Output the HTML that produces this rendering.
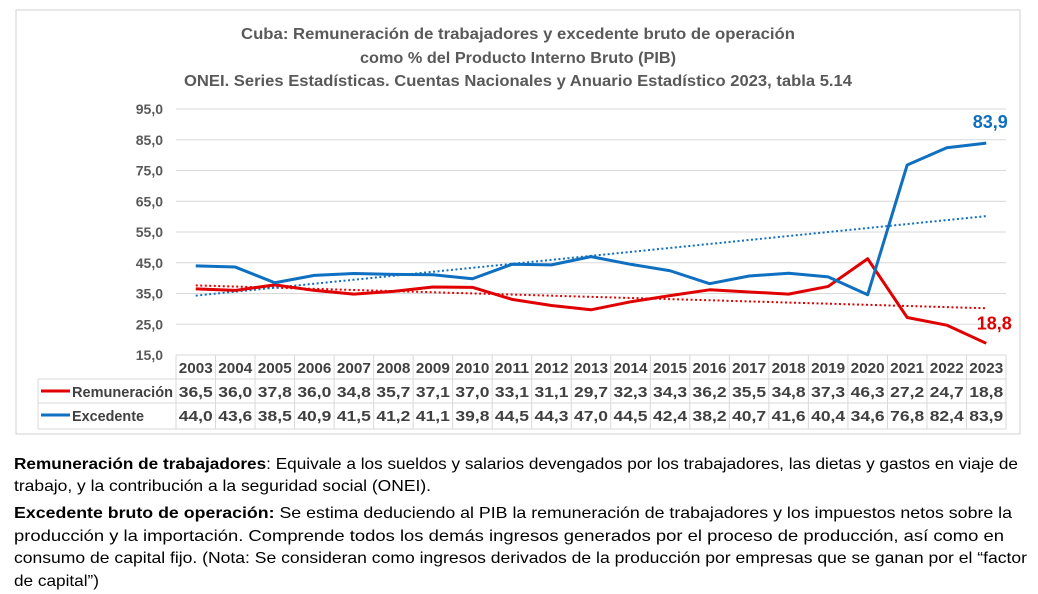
<!DOCTYPE html>
<html><head><meta charset="utf-8"><style>
html,body{margin:0;padding:0;background:#fff;}
svg{display:block;font-family:"Liberation Sans",Arial,sans-serif;}
</style></head><body>
<svg id="c" width="1038" height="594" viewBox="0 0 1038 594">
<rect x="16" y="10" width="1004" height="424" fill="#fff" stroke="#d9d9d9" stroke-width="1.2"/>
<g font-weight="bold" fill="#595959" font-size="15.5" text-anchor="middle">
<text x="518" y="39" textLength="554" lengthAdjust="spacingAndGlyphs">Cuba: Remuneración de trabajadores y excedente bruto de operación</text>
<text x="518" y="63" textLength="316" lengthAdjust="spacingAndGlyphs">como % del Producto Interno Bruto (PIB)</text>
<text x="518" y="86" textLength="668" lengthAdjust="spacingAndGlyphs">ONEI. Series Estadísticas. Cuentas Nacionales y Anuario Estadístico 2023, tabla 5.14</text>
</g>
<g id="grid"></g><g id="yt"></g><g id="tbl"></g><g id="marks"></g>
<g font-size="16" fill="#000">
<text x="14" y="469" textLength="1004" lengthAdjust="spacingAndGlyphs"><tspan font-weight="bold">Remuneración de trabajadores</tspan>: Equivale a los sueldos y salarios devengados por los trabajadores, las dietas y gastos en viaje de</text>
<text x="14" y="491" textLength="417" lengthAdjust="spacingAndGlyphs">trabajo, y la contribución a la seguridad social (ONEI).</text>
<text x="14" y="518" textLength="998" lengthAdjust="spacingAndGlyphs"><tspan font-weight="bold">Excedente bruto de operación:</tspan> Se estima deduciendo al PIB la remuneración de trabajadores y los impuestos netos sobre la</text>
<text x="14" y="541" textLength="990" lengthAdjust="spacingAndGlyphs">producción y la importación. Comprende todos los demás ingresos generados por el proceso de producción, así como en</text>
<text x="14" y="563" textLength="1013" lengthAdjust="spacingAndGlyphs">consumo de capital fijo. (Nota: Se consideran como ingresos derivados de la producción por empresas que se ganan por el “factor</text>
<text x="14" y="586" textLength="85" lengthAdjust="spacingAndGlyphs">de capital”)</text>
</g>
</svg>
<script>
const years=[2003,2004,2005,2006,2007,2008,2009,2010,2011,2012,2013,2014,2015,2016,2017,2018,2019,2020,2021,2022,2023];
const remuneracion=[36.5,36.0,37.8,36.0,34.8,35.7,37.1,37.0,33.1,31.1,29.7,32.3,34.3,36.2,35.5,34.8,37.3,46.3,27.2,24.7,18.8];
const excedente=[44.0,43.6,38.5,40.9,41.5,41.2,41.1,39.8,44.5,44.3,47.0,44.5,42.4,38.2,40.7,41.6,40.4,34.6,76.8,82.4,83.9];
const yTicks=[15,25,35,45,55,65,75,85,95];
const NS='http://www.w3.org/2000/svg';
const X0=176,X1=1006,Y0=355,Y1=109,VMIN=15,VMAX=95;
const cw=(X1-X0)/years.length;
const xs=i=>X0+cw*(i+0.5);
const ys=v=>Y0-(v-VMIN)/(VMAX-VMIN)*(Y0-Y1);
const fmt=v=>v.toFixed(1).replace('.',',');
function mk(p,tag,a){const e=document.createElementNS(NS,tag);for(const k in a)e.setAttribute(k,a[k]);document.getElementById(p).appendChild(e);return e;}
yTicks.forEach(t=>{
  if(t>VMIN){const l=mk('grid','line',{x1:X0,x2:X1,y1:ys(t),y2:ys(t),stroke:'#d9d9d9','stroke-width':1});
  
  }
  const tx=mk('yt','text',{x:163,y:ys(t)+5,'text-anchor':'end','font-size':14,'font-weight':'bold',fill:'#595959'});
  tx.textContent=fmt(t);
  
  
});
const R0=355,R1=379,R2=403,R3=429,LX=38;
const gs={stroke:'#d9d9d9','stroke-width':1};
[[X0,X1,R0],[LX,X1,R1],[LX,X1,R2],[LX,X1,R3]].forEach(a=>mk('tbl','line',Object.assign({x1:a[0],x2:a[1],y1:a[2],y2:a[2]},gs)));
mk('tbl','line',Object.assign({x1:LX,x2:LX,y1:R1,y2:R3},gs));
for(let i=0;i<=years.length;i++)mk('tbl','line',Object.assign({x1:X0+cw*i,x2:X0+cw*i,y1:R0,y2:R3},gs));
function cell(x,y,txt,name){const t=mk('tbl','text',{x:x,y:y,'text-anchor':'middle','font-size':14.5,'font-weight':'bold',fill:'#404040',textLength:34,lengthAdjust:'spacingAndGlyphs'});t.textContent=txt;

}
years.forEach((y,i)=>{cell(xs(i),R0+18,y,'year-label');cell(xs(i),R1+18,fmt(remuneracion[i]),'remuneracion-value');cell(xs(i),R2+18,fmt(excedente[i]),'excedente-value');});
[['Remuneración','#e00000',R1,'legend-remuneracion',101],['Excedente','#0f6fc0',R2,'legend-excedente',72]].forEach(d=>{
  mk('tbl','line',{x1:41,x2:70,y1:d[2]+12,y2:d[2]+12,stroke:d[1],'stroke-width':3});
  const t=mk('tbl','text',{x:72,y:d[2]+18,'font-size':14.5,'font-weight':'bold',fill:'#404040',textLength:d[4],lengthAdjust:'spacingAndGlyphs'});t.textContent=d[0];
  
  
});
function trend(arr){const n=arr.length;let sx=0,sy=0,sxy=0,sxx=0;arr.forEach((v,i)=>{sx+=i;sy+=v;sxy+=i*v;sxx+=i*i;});const b=(n*sxy-sx*sy)/(n*sxx-sx*sx);const a=(sy-b*sx)/n;return [a,a+b*(n-1)];}
[[remuneracion,'#e00000','remuneracion'],[excedente,'#0f6fc0','excedente']].forEach(s=>{
  const tr=trend(s[0]);
  const tl=mk('marks','line',{x1:xs(0),x2:xs(years.length-1),y1:ys(tr[0]),y2:ys(tr[1]),stroke:s[1],'stroke-width':2,'stroke-dasharray':'2,2.5'});
  
  
});
[[remuneracion,'#e00000','remuneracion'],[excedente,'#0f6fc0','excedente']].forEach(s=>{
  const p=mk('marks','polyline',{points:s[0].map((v,i)=>xs(i)+','+ys(v)).join(' '),fill:'none',stroke:s[1],'stroke-width':3,'stroke-linejoin':'round'});
  
  
});
const n=years.length-1;
const l1=mk('marks','text',{x:xs(n)+4,y:ys(excedente[n])-15,'text-anchor':'middle','font-size':18,'font-weight':'bold',fill:'#0f6fc0'});l1.textContent=fmt(excedente[n]);


const l2=mk('marks','text',{x:xs(n)+8,y:ys(remuneracion[n])-14,'text-anchor':'middle','font-size':18,'font-weight':'bold',fill:'#e00000'});l2.textContent=fmt(remuneracion[n]);


</script>
</body></html>
